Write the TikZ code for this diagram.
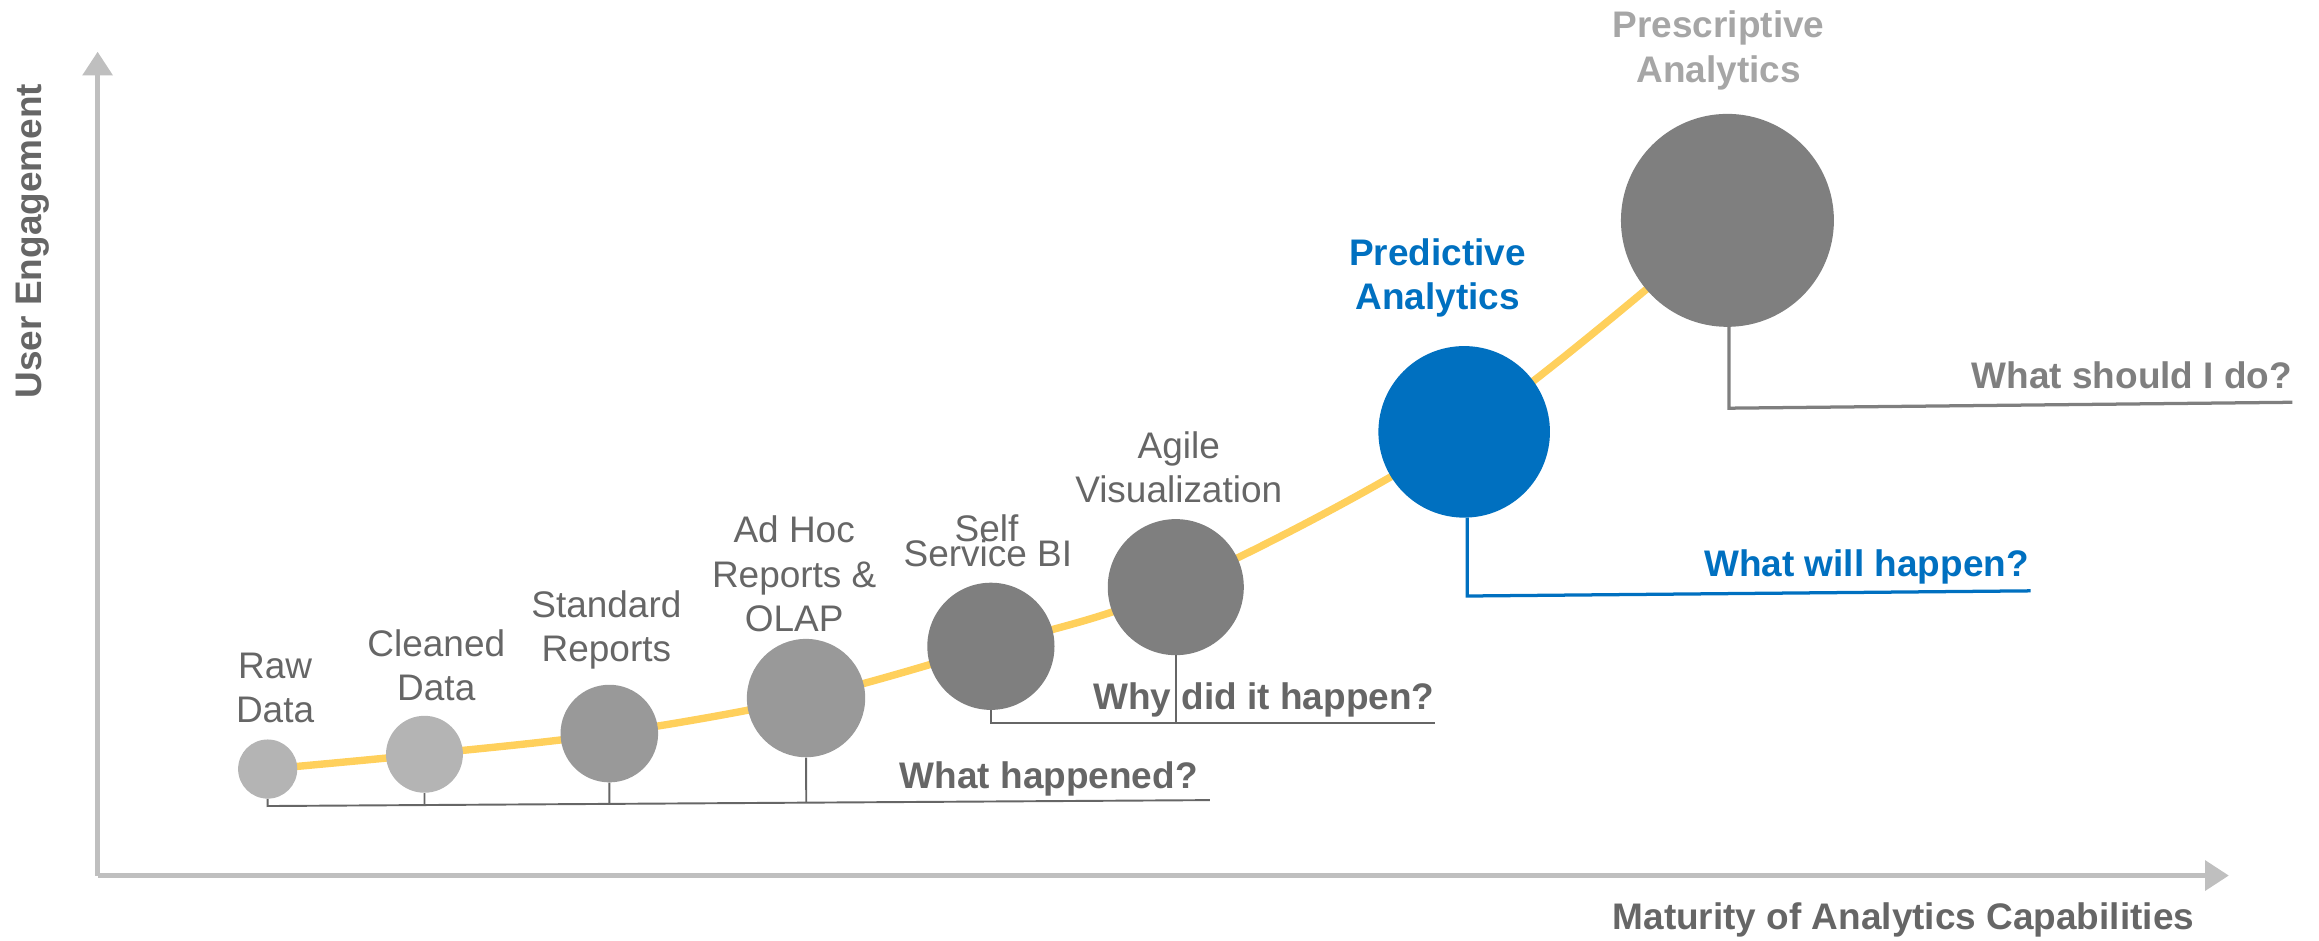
\documentclass[tikz,border=0pt]{standalone}
\usepackage{fontspec}
\setmainfont{Liberation Sans}
\usetikzlibrary{arrows.meta,calc}
\definecolor{axisgray}{HTML}{BFBFBF}
\definecolor{txtgray}{HTML}{666666}
\definecolor{cone}{HTML}{B4B4B4}
\definecolor{ctwo}{HTML}{999999}
\definecolor{cthree}{HTML}{7F7F7F}
\definecolor{pblue}{HTML}{0070C0}
\definecolor{curvey}{HTML}{FFD05C}
\definecolor{lgray}{HTML}{A6A6A6}
\begin{document}
\begin{tikzpicture}[x=1pt,y=-1pt,
  bubble/.style={circle, inner sep=0pt, minimum size=#1},
  lbl/.style={font=\fontsize{25}{30}\selectfont, text=txtgray, align=center, inner sep=0pt},
  blbl/.style={font=\fontsize{25}{30}\selectfont\bfseries, text=txtgray, align=center, inner sep=0pt},
  brk/.style={draw=txtgray, line width=1.3pt},
  axis/.style={draw=axisgray, line width=3pt, -{Triangle[length=16pt,width=20pt]}}]
\useasboundingbox (0,0) rectangle (1568,636);
% axes
\coordinate (O) at (66,592);
\coordinate (ytip) at (66,35);
\coordinate (xtip) at (1507,592);
\draw[axis] (O) -- (ytip);
\draw[axis] (O) -- (xtip);
\node[blbl, rotate=90] (ylab) at (22,163) {User Engagement};
\node[blbl] (xlab) at (1287,622) {Maturity of Analytics Capabilities};
% curve
\draw[curvey, line width=5pt] plot[smooth, tension=0.55] coordinates
  {(181,520) (287,510) (412,496) (545,472) (670,437) (795,397) (990,292) (1168,149)};
% bubbles
\node[bubble=40pt, fill=cone] (raw) at (181,520) {};
\node[bubble=52pt, fill=cone] (clean) at (287,510) {};
\node[bubble=66pt, fill=ctwo] (std) at (412,496) {};
\node[bubble=80pt, fill=ctwo] (adhoc) at (545,472) {};
\node[bubble=86pt, fill=cthree] (self) at (670,437) {};
\node[bubble=92pt, fill=cthree] (agile) at (795,397) {};
\node[bubble=116pt, fill=pblue] (pred) at (990,292) {};
\node[bubble=144pt, fill=cthree] (presc) at (1168,149) {};
% labels
\node[lbl] (rawl) at (186,465) {Raw\\Data};
\node[lbl] (cleanl) at (295,450) {Cleaned\\Data};
\node[lbl] (stdl) at (410,426) {Standard\\Reports};
\node[lbl] (adhocl) at (537,388) {Ad Hoc\\Reports \&\\OLAP};
\node[lbl, anchor=base] (selfl1) at (667,366) {Self};
\node[lbl, anchor=base] (selfl2) at (668,383) {Service BI};
\node[lbl] (agilel) at (797,316) {Agile\\Visualization};
\node[blbl, text=pblue] (predl) at (972,188) {Predictive\\Analytics};
\node[blbl, text=lgray] (prescl) at (1162,34) {Prescriptive\\Analytics};
% brackets
\coordinate (b1) at (181,545);
\coordinate (e1) at (818,541);
\draw[brk] (raw.south) -- (b1) -- (e1);
\draw[brk] (clean.south) -- ($(b1)!(clean.south)!(e1)$);
\draw[brk] (std.south) -- ($(b1)!(std.south)!(e1)$);
\draw[brk] (adhoc.south) -- ($(b1)!(adhoc.south)!(e1)$);
\node[blbl, anchor=base east] (q1) at (810,533) {What happened?};
\coordinate (e2) at (970,489);
\draw[brk] (self.south) -- (self.south |- e2) -- (e2);
\draw[brk] (agile.south) -- (agile.south |- e2);
\node[blbl, anchor=base east] (q2) at (970,480) {Why did it happen?};
\coordinate (b3) at (992,403);
\coordinate (e3) at (1373,399.5);
\draw[draw=pblue, line width=2.2pt] (pred.south -| b3) -- (b3) -- (e3);
\node[blbl, anchor=base east, text=pblue] (q3) at (1372,390) {What will happen?};
\coordinate (b4) at (1169,276);
\coordinate (e4) at (1550,272);
\draw[draw=cthree, line width=2.2pt] (presc.south -| b4) -- (b4) -- (e4);
\node[blbl, anchor=base east, text=cthree] (q4) at (1550,263) {What should I do?};
\end{tikzpicture}
\end{document}
